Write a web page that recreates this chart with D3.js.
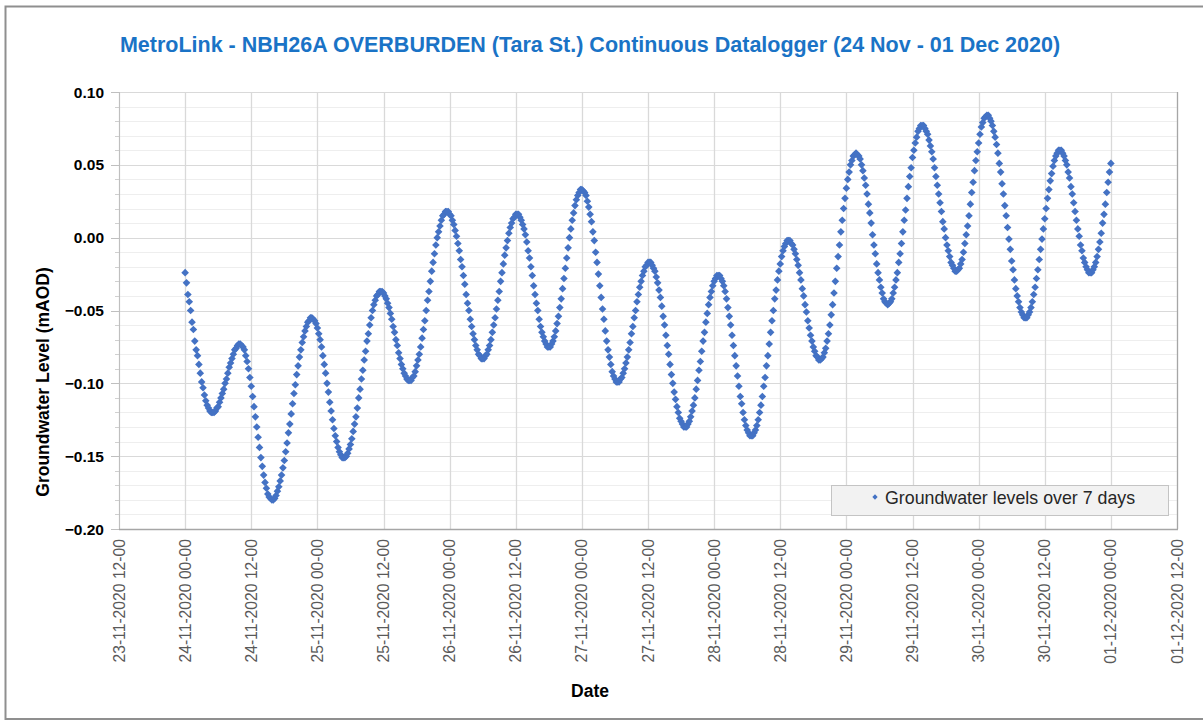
<!DOCTYPE html>
<html>
<head>
<meta charset="utf-8">
<script src="https://cdn.jsdelivr.net/npm/d3@7"></script>
<style>
  html, body { margin: 0; padding: 0; background: #fff; }
  svg { display: block; font-family: "Liberation Sans", Arial, sans-serif; }
</style>
</head>
<body>
<svg id="chart" width="1203" height="720"></svg>
<script>
// ---------------- data ----------------
const chartTitle = "MetroLink - NBH26A OVERBURDEN (Tara St.) Continuous Datalogger (24 Nov - 01 Dec 2020)";
const xAxisTitle = "Date";
const yAxisTitle = "Groundwater Level (mAOD)";
const seriesName = "Groundwater levels over 7 days";

// logger readings, one every 15 minutes starting 24-11-2020 00:00
const sampleStart = "2020-11-24T00:00:00";
const sampleMinutes = 15;
const levels = [
  -0.024,-0.031,-0.039,-0.044,-0.050,-0.058,-0.063,-0.071,-0.077,-0.081,-0.087,-0.093,-0.099,-0.103,-0.108,-0.112,-0.115,-0.117,-0.119,-0.120,-0.120,
  -0.120,-0.119,-0.117,-0.116,-0.113,-0.110,-0.107,-0.104,-0.100,-0.097,-0.093,-0.089,-0.086,-0.083,-0.080,-0.077,-0.076,-0.074,-0.073,-0.073,
  -0.074,-0.075,-0.077,-0.081,-0.085,-0.090,-0.096,-0.102,-0.109,-0.116,-0.123,-0.130,-0.137,-0.144,-0.151,-0.157,-0.163,-0.168,-0.172,-0.176,-0.178,-0.179,-0.180,
  -0.180,-0.179,-0.177,-0.174,-0.171,-0.167,-0.163,-0.158,-0.153,-0.147,-0.141,-0.134,-0.128,-0.121,-0.114,-0.107,-0.101,-0.094,-0.088,-0.082,-0.077,-0.072,-0.068,-0.064,-0.061,-0.058,-0.057,-0.055,-0.055,
  -0.056,-0.057,-0.059,-0.062,-0.066,-0.070,-0.075,-0.081,-0.087,-0.093,-0.100,-0.106,-0.113,-0.119,-0.125,-0.131,-0.136,-0.140,-0.144,-0.147,-0.149,-0.151,-0.151,
  -0.151,-0.150,-0.148,-0.145,-0.142,-0.138,-0.133,-0.128,-0.123,-0.117,-0.110,-0.104,-0.097,-0.091,-0.084,-0.078,-0.071,-0.066,-0.060,-0.055,-0.050,-0.046,-0.043,-0.040,-0.039,-0.037,-0.037,
  -0.037,-0.038,-0.040,-0.042,-0.045,-0.048,-0.052,-0.056,-0.061,-0.065,-0.070,-0.074,-0.079,-0.083,-0.087,-0.090,-0.093,-0.095,-0.097,-0.098,-0.098,
  -0.098,-0.096,-0.095,-0.092,-0.088,-0.084,-0.080,-0.075,-0.069,-0.063,-0.057,-0.050,-0.043,-0.037,-0.030,-0.023,-0.017,-0.011,-0.005,0.000,0.004,0.008,0.012,0.015,0.016,0.018,0.018,
  0.018,0.016,0.015,0.012,0.009,0.005,0.001,-0.004,-0.009,-0.015,-0.020,-0.026,-0.032,-0.039,-0.045,-0.050,-0.056,-0.061,-0.066,-0.070,-0.074,-0.077,-0.080,-0.081,-0.083,-0.083,
  -0.083,-0.081,-0.080,-0.077,-0.074,-0.070,-0.065,-0.060,-0.055,-0.049,-0.043,-0.037,-0.030,-0.024,-0.018,-0.012,-0.007,-0.002,0.003,0.007,0.010,0.013,0.014,0.016,0.016,
  0.016,0.014,0.012,0.009,0.006,0.002,-0.003,-0.009,-0.014,-0.020,-0.026,-0.033,-0.039,-0.045,-0.050,-0.056,-0.061,-0.065,-0.068,-0.071,-0.073,-0.075,-0.075,
  -0.075,-0.073,-0.071,-0.068,-0.064,-0.059,-0.054,-0.048,-0.042,-0.035,-0.028,-0.021,-0.014,-0.007,0.000,0.006,0.012,0.017,0.022,0.026,0.029,0.031,0.033,0.033,
  0.032,0.031,0.029,0.025,0.021,0.016,0.011,0.004,-0.002,-0.010,-0.017,-0.025,-0.033,-0.041,-0.049,-0.056,-0.064,-0.071,-0.077,-0.082,-0.087,-0.092,-0.095,-0.097,-0.099,-0.099,
  -0.099,-0.097,-0.096,-0.093,-0.090,-0.086,-0.082,-0.077,-0.072,-0.066,-0.061,-0.055,-0.050,-0.044,-0.039,-0.034,-0.030,-0.026,-0.023,-0.020,-0.019,-0.017,-0.017,
  -0.017,-0.019,-0.021,-0.023,-0.027,-0.031,-0.036,-0.041,-0.047,-0.054,-0.060,-0.067,-0.074,-0.080,-0.087,-0.094,-0.100,-0.106,-0.111,-0.116,-0.120,-0.124,-0.126,-0.128,-0.130,-0.130,
  -0.130,-0.128,-0.126,-0.123,-0.119,-0.115,-0.110,-0.104,-0.098,-0.091,-0.085,-0.078,-0.071,-0.065,-0.058,-0.052,-0.046,-0.041,-0.037,-0.033,-0.030,-0.028,-0.026,-0.026,
  -0.026,-0.028,-0.030,-0.033,-0.037,-0.042,-0.048,-0.054,-0.060,-0.067,-0.074,-0.081,-0.088,-0.095,-0.102,-0.109,-0.114,-0.120,-0.125,-0.129,-0.132,-0.134,-0.136,-0.136,
  -0.136,-0.134,-0.132,-0.129,-0.125,-0.120,-0.115,-0.109,-0.102,-0.096,-0.088,-0.081,-0.073,-0.065,-0.057,-0.050,-0.042,-0.036,-0.029,-0.023,-0.018,-0.013,-0.009,-0.006,-0.004,-0.002,-0.002,
  -0.002,-0.004,-0.005,-0.008,-0.011,-0.015,-0.019,-0.024,-0.029,-0.035,-0.040,-0.046,-0.051,-0.057,-0.062,-0.067,-0.071,-0.075,-0.078,-0.081,-0.082,-0.084,-0.084,
  -0.083,-0.082,-0.079,-0.076,-0.071,-0.066,-0.060,-0.053,-0.046,-0.038,-0.030,-0.021,-0.013,-0.005,0.004,0.012,0.020,0.027,0.034,0.040,0.045,0.050,0.053,0.056,0.057,0.058,
  0.057,0.056,0.054,0.050,0.046,0.041,0.036,0.030,0.023,0.017,0.010,0.002,-0.005,-0.011,-0.018,-0.024,-0.029,-0.034,-0.038,-0.042,-0.044,-0.045,-0.046,
  -0.045,-0.044,-0.042,-0.038,-0.034,-0.029,-0.024,-0.017,-0.011,-0.004,0.004,0.012,0.019,0.027,0.035,0.042,0.048,0.055,0.060,0.065,0.069,0.073,0.075,0.077,0.077,
  0.077,0.075,0.073,0.071,0.067,0.063,0.059,0.054,0.048,0.042,0.036,0.030,0.024,0.018,0.011,0.006,0.000,-0.005,-0.009,-0.013,-0.017,-0.019,-0.021,-0.023,-0.023,
  -0.022,-0.021,-0.018,-0.015,-0.010,-0.004,0.002,0.008,0.015,0.023,0.031,0.038,0.046,0.053,0.059,0.065,0.071,0.076,0.079,0.082,0.083,0.084,
  0.084,0.082,0.080,0.077,0.073,0.069,0.064,0.058,0.051,0.045,0.037,0.030,0.022,0.015,0.007,-0.001,-0.008,-0.016,-0.022,-0.029,-0.035,-0.040,-0.044,-0.048,-0.051,-0.053,-0.055,-0.055,
  -0.055,-0.053,-0.051,-0.048,-0.044,-0.039,-0.034,-0.028,-0.022,-0.015,-0.008,-0.001,0.006,0.013,0.020,0.027,0.033,0.039,0.044,0.049,0.053,0.056,0.058,0.060,0.060,
  0.060,0.058,0.056,0.053,0.050,0.045,0.041,0.035,0.030,0.024,0.018,0.012,0.006,0.001,-0.005,-0.009,-0.014,-0.017,-0.020,-0.022,-0.024,-0.024,
  -0.024,-0.022,-0.020,-0.017,-0.013,-0.008,-0.003,0.003,0.010,0.016,0.023,0.031,0.038,0.045,0.051
];

// axis definitions
const xDomain = ["2020-11-23T12:00:00", "2020-12-01T12:00:00"];
const xTickHours = 12;
const xTickFormat = "%d-%m-%Y %H-%M";
const yDomain = [-0.20, 0.10];
const yMajorTicks = [-0.20, -0.15, -0.10, -0.05, 0.00, 0.05, 0.10];
const yMinorTicks = [-0.19,-0.18,-0.17,-0.16,-0.14,-0.13,-0.12,-0.11,-0.09,-0.08,-0.07,-0.06,-0.04,-0.03,-0.02,-0.01,0.01,0.02,0.03,0.04,0.06,0.07,0.08,0.09];

// ---------------- drawing ----------------
const svg = d3.select("#chart");
const W = 1203, H = 720;
const plot = { left: 119, right: 1177, top: 92, bottom: 529 };

svg.append("rect").attr("x", 0).attr("y", 0).attr("width", W).attr("height", H).attr("fill", "#fff");
// outer chart border
svg.append("rect").attr("x", 5.5).attr("y", 6.5).attr("width", 1210).attr("height", 712.5)
  .attr("fill", "none").attr("stroke", "#8f8f8f").attr("stroke-width", 2);

const parse = d3.timeParse("%Y-%m-%dT%H:%M:%S");
const t0 = parse(sampleStart);
const points = levels.map((v, i) => ({ t: d3.timeMinute.offset(t0, i * sampleMinutes), v }));

const x = d3.scaleTime().domain(xDomain.map(parse)).range([plot.left, plot.right]);
const y = d3.scaleLinear().domain(yDomain).range([plot.bottom, plot.top]);

const xTicks = d3.timeHour.every(xTickHours).range(x.domain()[0], d3.timeMinute.offset(x.domain()[1], 1));

// gridlines
const grid = svg.append("g");
grid.selectAll("line.minor").data(yMinorTicks).join("line")
  .attr("x1", plot.left).attr("x2", plot.right)
  .attr("y1", d => Math.round(y(d)) + 0.5).attr("y2", d => Math.round(y(d)) + 0.5)
  .attr("stroke", "#eeeeee").attr("stroke-width", 1);
grid.selectAll("line.major").data(yMajorTicks).join("line")
  .attr("x1", plot.left).attr("x2", plot.right)
  .attr("y1", d => Math.round(y(d)) + 0.5).attr("y2", d => Math.round(y(d)) + 0.5)
  .attr("stroke", "#d9d9d9").attr("stroke-width", 1);
grid.selectAll("line.vert").data(xTicks).join("line")
  .attr("x1", d => Math.round(x(d)) + 0.5).attr("x2", d => Math.round(x(d)) + 0.5)
  .attr("y1", plot.top).attr("y2", plot.bottom)
  .attr("stroke", "#d9d9d9").attr("stroke-width", 1.3);

// axis frame
svg.append("line").attr("x1", plot.left + 0.5).attr("x2", plot.left + 0.5)
  .attr("y1", plot.top).attr("y2", plot.bottom).attr("stroke", "#bfbfbf");
svg.append("line").attr("x1", plot.left).attr("x2", plot.right + 1)
  .attr("y1", plot.bottom + 0.5).attr("y2", plot.bottom + 0.5).attr("stroke", "#a6a6a6").attr("stroke-width", 1.5);
svg.append("line").attr("x1", plot.right + 0.5).attr("x2", plot.right + 0.5)
  .attr("y1", plot.top).attr("y2", plot.bottom).attr("stroke", "#a6a6a6").attr("stroke-width", 1.2);

// y ticks
const yAxisG = svg.append("g");
yAxisG.selectAll("line.ymaj").data(yMajorTicks).join("line")
  .attr("x1", plot.left - 8).attr("x2", plot.left)
  .attr("y1", d => Math.round(y(d)) + 0.5).attr("y2", d => Math.round(y(d)) + 0.5)
  .attr("stroke", "#bfbfbf");
yAxisG.selectAll("line.ymin").data(yMinorTicks).join("line")
  .attr("x1", plot.left - 4).attr("x2", plot.left)
  .attr("y1", d => Math.round(y(d)) + 0.5).attr("y2", d => Math.round(y(d)) + 0.5)
  .attr("stroke", "#d0d0d0");
yAxisG.selectAll("text").data(yMajorTicks).join("text")
  .attr("x", 104).attr("y", d => y(d)).attr("dy", "0.36em")
  .attr("text-anchor", "end").attr("font-size", 15.5).attr("font-weight", "bold").attr("fill", "#000")
  .text(d => d3.format(".2f")(d));

// x tick labels
const fmt = d3.timeFormat(xTickFormat);
svg.append("g").selectAll("text").data(xTicks).join("text")
  .attr("transform", d => `translate(${x(d)},${plot.bottom + 10}) rotate(-90)`)
  .attr("dy", "0.35em").attr("text-anchor", "end")
  .attr("font-size", 15.7).attr("fill", "#595959")
  .text(d => fmt(d));

// data markers
const diamond = d3.symbol().type(d3.symbolSquare).size(29);
svg.append("g").selectAll("path").data(points).join("path")
  .attr("d", diamond)
  .attr("transform", d => `translate(${x(d.t)},${y(d.v)}) rotate(45)`)
  .attr("fill", "#4472c4");

// titles
svg.append("text").attr("x", 590).attr("y", 52).attr("text-anchor", "middle")
  .attr("font-size", 21.5).attr("font-weight", "bold").attr("fill", "#1a73c6")
  .text(chartTitle);
svg.append("text").attr("x", 590).attr("y", 697).attr("text-anchor", "middle")
  .attr("font-size", 17.5).attr("font-weight", "bold").attr("fill", "#000")
  .text(xAxisTitle);
svg.append("text").attr("transform", "translate(49,382) rotate(-90)").attr("text-anchor", "middle")
  .attr("font-size", 17.5).attr("font-weight", "bold").attr("fill", "#000")
  .text(yAxisTitle);

// legend
const lg = svg.append("g");
lg.append("rect").attr("x", 831.5).attr("y", 485.5).attr("width", 337).attr("height", 30)
  .attr("fill", "#f2f2f2").attr("stroke", "#c4c4c4");
lg.append("path").attr("d", d3.symbol().type(d3.symbolSquare).size(14))
  .attr("transform", "translate(875,497) rotate(45)").attr("fill", "#4472c4");
lg.append("text").attr("x", 885).attr("y", 503.5).attr("font-size", 17.8).attr("fill", "#262626")
  .text(seriesName);
</script>
</body>
</html>
